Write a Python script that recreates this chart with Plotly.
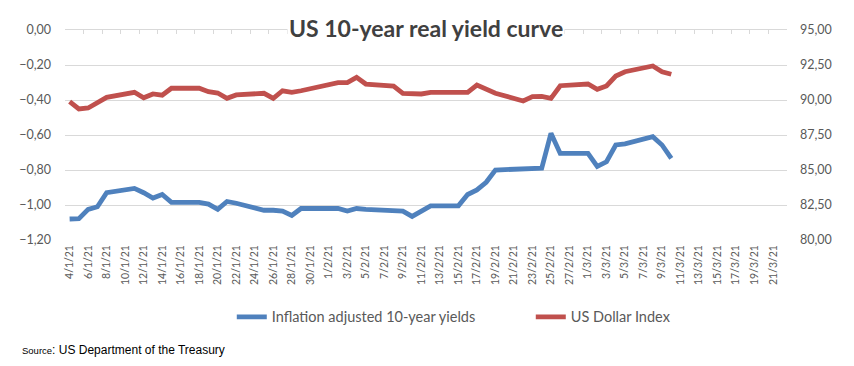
import plotly.graph_objects as go
import datetime as dt

dates = [
    "2021-01-04", "2021-01-05", "2021-01-06", "2021-01-07", "2021-01-08",
    "2021-01-11", "2021-01-12", "2021-01-13", "2021-01-14", "2021-01-15",
    "2021-01-18", "2021-01-19", "2021-01-20", "2021-01-21", "2021-01-22",
    "2021-01-25", "2021-01-26", "2021-01-27", "2021-01-28", "2021-01-29",
    "2021-02-01", "2021-02-02", "2021-02-03", "2021-02-04", "2021-02-05",
    "2021-02-08", "2021-02-09", "2021-02-10", "2021-02-11", "2021-02-12",
    "2021-02-15", "2021-02-16", "2021-02-17", "2021-02-18", "2021-02-19",
    "2021-02-22", "2021-02-23", "2021-02-24", "2021-02-25", "2021-02-26",
    "2021-03-01", "2021-03-02", "2021-03-03", "2021-03-04", "2021-03-05",
    "2021-03-08", "2021-03-09", "2021-03-10",
]

real_yield = [
    -1.08, -1.078, -1.025, -1.01, -0.93,
    -0.905, -0.93, -0.96, -0.94, -0.985,
    -0.985, -0.995, -1.025, -0.98, -0.99,
    -1.03, -1.03, -1.035, -1.06, -1.02,
    -1.02, -1.02, -1.035, -1.02, -1.025,
    -1.03, -1.035, -1.065, -1.035, -1.005,
    -1.005, -0.94, -0.914, -0.87, -0.80,
    -0.797, -0.793, -0.79, -0.59, -0.705,
    -0.705, -0.78, -0.753, -0.657, -0.651,
    -0.61, -0.657, -0.733,
]

dollar_index = [
    89.88, 89.36, 89.43, 89.80, 90.19,
    90.55, 90.16, 90.43, 90.34, 90.84,
    90.84, 90.59, 90.50, 90.12, 90.36,
    90.48, 90.12, 90.66, 90.55, 90.66,
    91.07, 91.24, 91.24, 91.62, 91.14,
    91.00, 90.48, 90.45, 90.43, 90.55,
    90.55, 90.55, 91.07, 90.75, 90.48,
    89.93, 90.24, 90.25, 90.12, 91.02,
    91.14, 90.76, 91.00, 91.71, 92.02,
    92.43, 92.02, 91.84,
]

# tick labels every 2 days, 4/1/21 .. 21/3/21
start = dt.date(2021, 1, 4)
tick_dates = [start + dt.timedelta(days=2 * i) for i in range(39)]
tick_vals = [d.isoformat() for d in tick_dates]
tick_text = [f"{d.day}/{d.month}/21" for d in tick_dates]
bound_vals = [(dt.datetime(2021, 1, 3, 12) + dt.timedelta(days=2 * i)).isoformat() for i in range(40)]

x_range = ["2021-01-03 12:00", "2021-03-22 12:00"]

BLUE = "#4F81BD"
RED = "#C0504D"
GRID = "#d9d9d9"
TXT = "#595959"
FONT = "Lato"

fig = go.Figure()
fig.add_trace(go.Scatter(
    x=dates, y=real_yield, mode="lines", name="Inflation adjusted 10-year yields",
    line=dict(color=BLUE, width=4.8), yaxis="y",
))
fig.add_trace(go.Scatter(
    x=dates, y=dollar_index, mode="lines", name="US Dollar Index",
    line=dict(color=RED, width=4.8), yaxis="y2",
))
fig.add_trace(go.Scatter(
    x=[dates[0]], y=[None], xaxis="x2", showlegend=False, hoverinfo="skip",
))

fig.update_layout(
    width=854, height=366,
    margin=dict(l=65, r=67, t=30, b=126),
    paper_bgcolor="white", plot_bgcolor="white",
    separators=",.",
    font=dict(family=FONT, color=TXT, size=12),
    showlegend=True,
    legend=dict(
        orientation="h", x=0.231, xanchor="left", y=-0.366, yanchor="middle",
        font=dict(family=FONT, size=14.5, color=TXT),
        entrywidth=254, entrywidthmode="pixels", itemwidth=30,
        bgcolor="rgba(0,0,0,0)",
    ),
    xaxis=dict(
        type="date", range=x_range, tickmode="array", tickvals=tick_vals,
        ticktext=tick_text, tickangle=-90, showgrid=False, zeroline=False,
        showline=False, ticks="", tickfont=dict(family=FONT, size=10.5, color=TXT),
        ticklabelstandoff=2,
    ),
    xaxis2=dict(
        type="date", range=x_range, overlaying="x", side="top", anchor="y",
        tickmode="array", tickvals=bound_vals, showticklabels=False,
        ticks="inside", ticklen=4, tickcolor=GRID, showline=True,
        linecolor=GRID, linewidth=1, showgrid=False, zeroline=False,
    ),
    yaxis=dict(
        range=[-1.2, 0], dtick=0.2, tick0=0, tickformat=".2f",
        showgrid=True, gridcolor=GRID, gridwidth=1, zeroline=False,
        showline=False, ticks="", ticklabelstandoff=13,
        tickfont=dict(family=FONT, size=12.5, color=TXT),
    ),
    yaxis2=dict(
        range=[80, 95], dtick=2.5, tick0=80, tickformat=".2f",
        overlaying="y", side="right", showgrid=False, zeroline=False,
        showline=False, ticks="", ticklabelstandoff=12,
        tickfont=dict(family=FONT, size=12.5, color=TXT),
    ),
)

fig.add_annotation(
    text="<b>US 10-year real yield curve</b>", xref="paper", yref="paper",
    x=0.5, y=1.0095, xanchor="center", yanchor="middle", showarrow=False,
    font=dict(family=FONT, size=23, color="#404040"), bgcolor="white",
)
fig.add_annotation(
    text="<span style='font-size:9.5px'>Source</span>: US Department of the Treasury",
    xref="paper", yref="paper", x=(20 - 65) / 722, y=(240 - 350) / 210,
    xanchor="left", yanchor="middle", showarrow=False,
    font=dict(family="Liberation Sans", size=12, color="#000000"),
)

fig.write_html(
    "out.html",
    config={"displayModeBar": False},
    post_script="document.body.style.margin='0px';",
)
